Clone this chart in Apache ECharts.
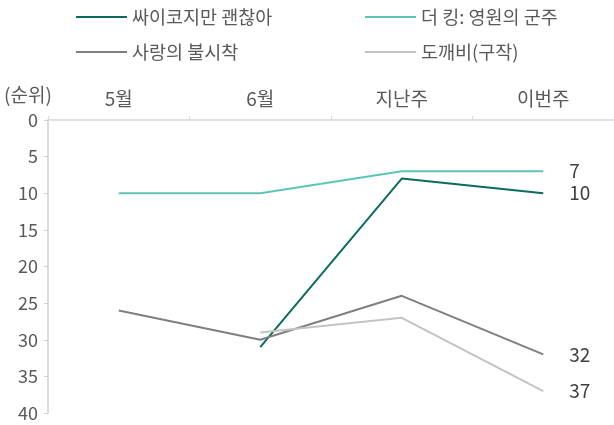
<!DOCTYPE html>
<html>
<head>
  <meta charset="UTF-8">
  <title>순위 추이</title>
  <script src="https://cdn.jsdelivr.net/npm/echarts@6/dist/echarts.min.js"></script>
  <style>
    html, body { margin: 0; padding: 0; background: #fff; }
    #main { width: 614px; height: 425px; }
  </style>
</head>
<body>
<div id="main"></div>
<script>
  // 기간
  const periods = ['5월', '6월', '지난주', '이번주'];
  // 순위 (null = 데이터 없음)
  const psycho = [null, 31, 8, 10];
  const theKing = [10, 10, 7, 7];
  const crashLanding = [26, 30, 24, 32];
  const goblin = [null, 29, 27, 37];
  const yTicks = { min: 0, max: 40, interval: 5 };

  const font = '"Noto Sans CJK KR", "Noto Sans", sans-serif';
  const textColor = '#595959';

  function makeLine(name, data, color) {
    return {
      name: name,
      type: 'line',
      data: data,
      symbol: 'none',
      lineStyle: { color: color, width: 2 },
      itemStyle: { color: color },
      endLabel: {
        show: true,
        formatter: function (p) { return p.value; },
        distance: 26,
        color: '#404040',
        fontSize: 19,
        fontFamily: font
      }
    };
  }

  let myChart = echarts.init(document.getElementById('main'), null, {renderer: 'canvas'});
  let legendBase = {
    orient: 'vertical',
    top: 6,
    padding: 0,
    itemWidth: 51,
    itemHeight: 2,
    itemGap: 13,
    icon: 'rect',
    textStyle: { color: textColor, fontSize: 18.5, fontFamily: font, lineHeight: 22 }
  };
  let option = {
    animation: false,
    textStyle: { fontFamily: font },
    legend: [
      Object.assign({}, legendBase, { left: 76, data: ['싸이코지만 괜찮아', '사랑의 불시착'] }),
      Object.assign({}, legendBase, { left: 365, data: ['더 킹: 영원의 군주', '도깨비(구작)'] })
    ],
    graphic: [{
      type: 'text',
      left: 4,
      top: 85,
      style: { text: '(순위)', fill: textColor, fontSize: 19, fontFamily: font }
    }],
    grid: { left: 48, right: -4, top: 120, bottom: 12 },
    xAxis: {
      type: 'category',
      position: 'top',
      data: periods,
      boundaryGap: true,
      axisLine: { lineStyle: { color: '#d9d9d9', width: 1.5 } },
      axisTick: { show: true, length: 4, lineStyle: { color: '#d9d9d9' } },
      axisLabel: { color: textColor, fontSize: 19, fontFamily: font, margin: 12 },
      splitLine: { show: false }
    },
    yAxis: {
      type: 'value',
      inverse: true,
      min: yTicks.min,
      max: yTicks.max,
      interval: yTicks.interval,
      axisLine: { show: true, lineStyle: { color: '#d0d0d0', width: 1.5 } },
      axisTick: { show: true, length: 4, lineStyle: { color: '#d0d0d0' } },
      axisLabel: { color: textColor, fontSize: 18, fontFamily: font, margin: 10 },
      splitLine: { show: false }
    },
    series: [
      makeLine('싸이코지만 괜찮아', psycho, '#0b6b5f'),
      makeLine('더 킹: 영원의 군주', theKing, '#5cc6b6'),
      makeLine('사랑의 불시착', crashLanding, '#7f7f7f'),
      makeLine('도깨비(구작)', goblin, '#c3c3c3')
    ]
  };
  myChart.setOption(option);

  window.addEventListener("resize", function () {
    myChart.resize();
  });
</script>
</body>
</html>
